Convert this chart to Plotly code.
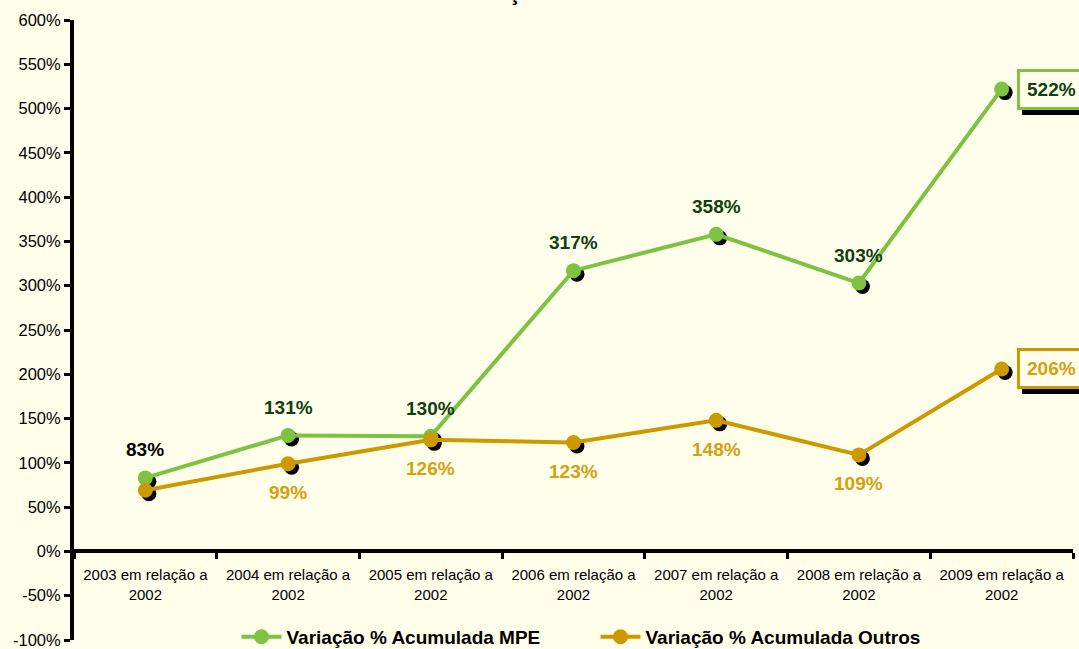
import plotly.graph_objects as go

categories = ["2003 em relação a 2002", "2004 em relação a 2002", "2005 em relação a 2002",
              "2006 em relação a 2002", "2007 em relação a 2002", "2008 em relação a 2002",
              "2009 em relação a 2002"]
tick_labels = ["2003 em relação a<br>2002", "2004 em relação a<br>2002", "2005 em relação a<br>2002",
               "2006 em relação a<br>2002", "2007 em relação a<br>2002", "2008 em relação a<br>2002",
               "2009 em relação a<br>2002"]
mpe = [83, 131, 130, 317, 358, 303, 522]
outros = [69, 99, 126, 123, 148, 109, 206]
series_names = ["Variação % Acumulada MPE", "Variação % Acumulada Outros"]
title_text = "Variação % Acumulada"
y_ticks = [-100, -50, 0, 50, 100, 150, 200, 250, 300, 350, 400, 450, 500, 550, 600]

BG = "#FEFEEA"
GREEN = "#7DC242"
GREEN_TXT = "#0F400F"
GOLD = "#CC9900"
GOLD_TXT = "#D4A010"
FONT = "Liberation Sans, Arial, sans-serif"

x = list(range(len(categories)))
# shadow offsets in axis units (~3.5 px)
dx = 3.5 / 142.7
dy = 3.5 / 0.886

fig = go.Figure()
for vals in (mpe, outros):
    fig.add_trace(go.Scatter(x=[v + dx for v in x], y=[v - dy for v in vals], mode="markers",
                             marker=dict(size=15, color="black"), showlegend=False, hoverinfo="skip"))
fig.add_trace(go.Scatter(x=x, y=mpe, mode="lines+markers", name=series_names[0],
                         line=dict(color=GREEN, width=4), marker=dict(size=15, color=GREEN)))
fig.add_trace(go.Scatter(x=x, y=outros, mode="lines+markers", name=series_names[1],
                         line=dict(color=GOLD, width=4), marker=dict(size=15, color=GOLD)))

annotations = []
n = len(categories)
for i in range(n - 1):
    col = "black" if i == 0 else GREEN_TXT
    annotations.append(dict(x=i, y=mpe[i], text=f"{mpe[i]}%", showarrow=False, yshift=28,
                            font=dict(family=FONT, size=19, color=col, weight="bold")))
for i in range(1, n - 1):
    annotations.append(dict(x=i, y=outros[i], text=f"{outros[i]}%", showarrow=False, yshift=-29,
                            font=dict(family=FONT, size=19, color=GOLD_TXT, weight="bold")))
# boxed labels for the final values, with shadow
for vals, bcol, tcol in ((mpe, GREEN, GREEN_TXT), (outros, GOLD, GOLD_TXT)):
    i = n - 1
    annotations.append(dict(x=i, y=vals[i], text=f"{vals[i]}%", showarrow=False, xanchor="left",
                            xshift=20, yshift=-5, bgcolor="black", bordercolor="black", borderwidth=3,
                            borderpad=7, font=dict(family=FONT, size=19, color="black", weight="bold")))
    annotations.append(dict(x=i, y=vals[i], text=f"{vals[i]}%", showarrow=False, xanchor="left",
                            xshift=15, yshift=0, bgcolor=BG, bordercolor=bcol, borderwidth=3,
                            borderpad=7, font=dict(family=FONT, size=19, color=tcol, weight="bold")))
annotations.append(dict(xref="paper", yref="paper", x=0.503, y=1.0215, yanchor="bottom", showarrow=False,
                        text=title_text, font=dict(family=FONT, size=22, color="black", weight="bold")))

fig.update_layout(
    width=1079, height=649,
    margin=dict(l=74, r=6, t=20, b=9, autoexpand=False),
    paper_bgcolor=BG, plot_bgcolor=BG,
    font=dict(family=FONT, color="black"),
    annotations=annotations,
    legend=dict(orientation="h", x=0.522, xanchor="center", y=0.005, yanchor="middle",
                bgcolor="rgba(0,0,0,0)", font=dict(family=FONT, size=19, color="black", weight="bold"),
                itemwidth=40, entrywidth=304),
    xaxis=dict(range=[-0.5, n - 0.5], anchor="free", position=1 / 7, showgrid=False, zeroline=False,
               showline=True, linecolor="black", linewidth=4,
               tickmode="array", tickvals=x, ticktext=tick_labels,
               ticks="outside", ticklen=9, tickcolor="rgba(0,0,0,0)",
               tickfont=dict(family=FONT, size=15, color="black"),
               minor=dict(tickmode="array", tickvals=[i - 0.5 for i in range(n + 1)], ticks="outside",
                          ticklen=6, tickwidth=3, tickcolor="black", showgrid=False)),
    yaxis=dict(range=[-100, 600], tickmode="array", tickvals=y_ticks, ticktext=[f"{v}%" for v in y_ticks],
               showgrid=False, zeroline=False,
               showline=True, linecolor="black", linewidth=4, ticks="outside", ticklen=6, tickwidth=3,
               tickcolor="black", tickfont=dict(family=FONT, size=16.5, color="black")),
)

fig.write_html("out.html", config={"displayModeBar": False},
               post_script="document.body.style.margin='0';")
